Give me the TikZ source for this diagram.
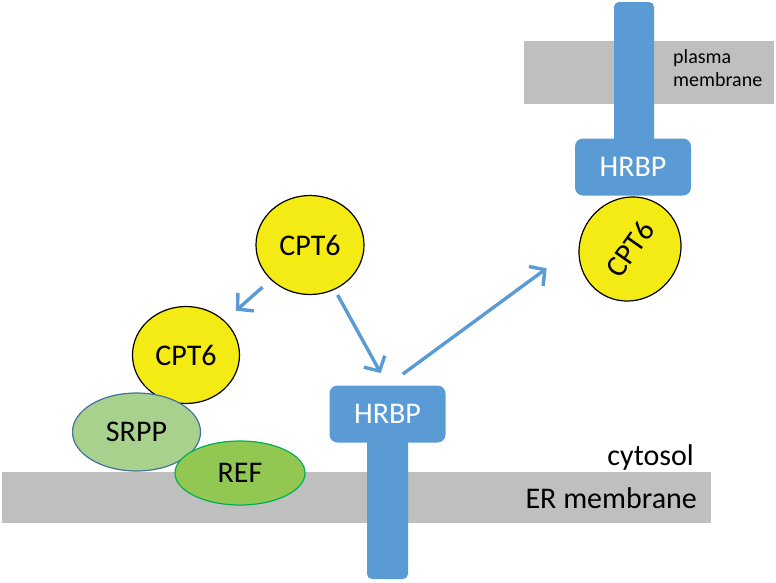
\documentclass[tikz,border=0pt]{standalone}
\usepackage{fontspec}
\setmainfont{Carlito}
\usetikzlibrary{shapes.geometric, arrows.meta, positioning}
\definecolor{hrbpblue}{RGB}{91,155,213}
\definecolor{cptyellow}{RGB}{245,235,20}
\definecolor{membgray}{RGB}{191,191,191}
\definecolor{srppgreen}{RGB}{169,209,142}
\definecolor{srppedge}{RGB}{65,113,156}
\definecolor{refgreen}{RGB}{146,200,82}
\definecolor{refedge}{RGB}{0,176,80}
\tikzstyle{flow} = [line width=3.4pt, hrbpblue, -{Straight Barb[length=11pt,width=24pt]}]

\begin{document}
\begin{tikzpicture}[
  x=1pt, y=-1pt,
  protein/.style={ellipse, draw=black, line width=1.2pt, fill=cptyellow, inner sep=2pt,
    font=\fontsize{30}{36}\selectfont},
  receptor/.style={rectangle, rounded corners=8pt, fill=hrbpblue, text=white,
    minimum width=116pt, minimum height=57pt, font=\fontsize{30}{36}\selectfont},
  stalk/.style={fill=hrbpblue, rounded corners=5pt},
  compartment/.style={inner sep=0pt, font=\fontsize{30}{36}\selectfont}
]
\useasboundingbox (0,0) rectangle (776,582);

% membranes
\fill[membgray] (2,472) rectangle (711,523);
\fill[membgray] (524,41) rectangle (774,104);

% ER side
\fill[stalk] (367,425) rectangle (408,579);
\node[receptor] (hrbpE) at (387.5,414) {HRBP};

\node[protein, minimum width=108pt, minimum height=99pt] (cptM) at (310,245) {CPT6};
\node[protein, minimum width=107pt, minimum height=97pt] (cptL) at (186,355) {CPT6};
\node[ellipse, draw=srppedge, line width=1.2pt, fill=srppgreen, inner sep=2pt,
  minimum width=128pt, minimum height=78pt, font=\fontsize{30}{36}\selectfont] (srpp) at (136.5,432) {SRPP};
\node[ellipse, draw=refedge, line width=1.2pt, fill=refgreen, inner sep=2pt,
  minimum width=130pt, minimum height=64pt, font=\fontsize{30}{36}\selectfont] (ref) at (240,473) {REF};

% plasma membrane side
\fill[stalk] (614,2) rectangle (654,150);
\node[protein, minimum width=106pt, minimum height=100pt, rotate=55] (cptT) at (630,249) {CPT6};
\node[receptor] (hrbpP) at (633,167) {HRBP};

\node[compartment, anchor=base east] (cyto) at (694,465) {cytosol};
\node[compartment, anchor=base east] (erm) at (697,508) {ER membrane};
\node[inner sep=0pt, align=left, anchor=north west, font=\fontsize{20}{23.4}\selectfont] (pm) at (673,49.5) {plasma\\membrane};

\coordinate (dock) at (546.7,268.3);
\draw[flow, shorten <=11pt, shorten >=15pt] (cptM) -- (cptL);
\draw[flow, shorten <=6pt, shorten >=14pt] (cptM) -- (hrbpE.north);
\draw[flow, shorten <=19pt] (hrbpE.north) -- (dock);

\end{tikzpicture}
\end{document}
